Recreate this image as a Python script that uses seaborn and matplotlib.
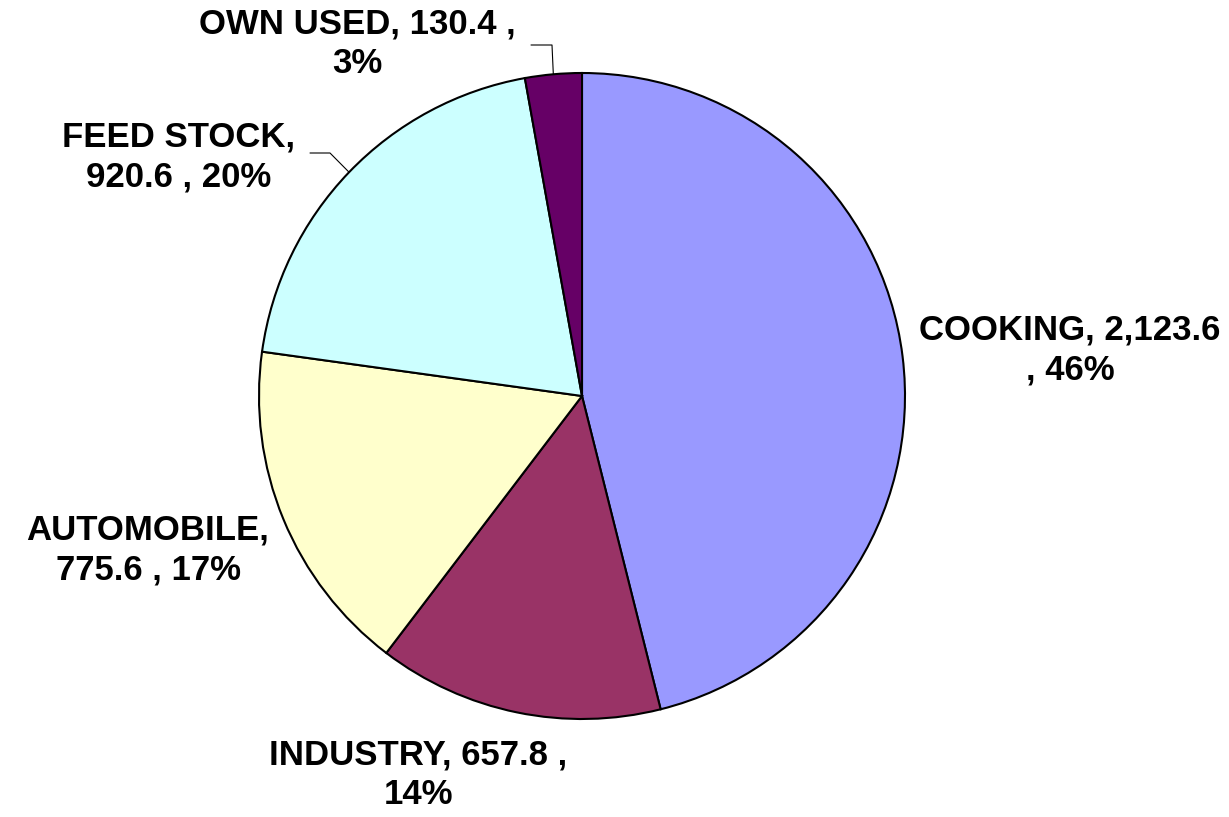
import seaborn as sns
import matplotlib.pyplot as plt
import numpy as np

sns.set_theme(style="white")
plt.rcParams['font.family'] = ['Liberation Sans', 'DejaVu Sans']

categories = ['COOKING', 'INDUSTRY', 'AUTOMOBILE', 'FEED STOCK', 'OWN USED']
values = [2123.6, 657.8, 775.6, 920.6, 130.4]
colors = ['#9999FF', '#993366', '#FFFFCC', '#CCFFFF', '#660066']
# where the label wraps: after the name or after the value
wrap_after = ['value', 'value', 'name', 'name', 'value']

W, H = 1229, 817
fig = plt.figure(figsize=(W / 100, H / 100), dpi=100)
ax = fig.add_axes([0, 0, 1, 1])

cx, cy, r = 582, H - 396, 323
wedges, _ = ax.pie(values, colors=colors, startangle=90, counterclock=False,
                   center=(cx, cy), radius=r, frame=True,
                   wedgeprops=dict(edgecolor='black', linewidth=1.5))
ax.set_xlim(0, W)
ax.set_ylim(0, H)
ax.axis('off')

total = sum(values)
label_pos = [(1070, H - 350), (418, H - 775), (148, H - 550),
             (179, H - 157), (357, H - 44)]
for name, v, wrap, (tx, ty) in zip(categories, values, wrap_after, label_pos):
    pct = round(v / total * 100)
    if wrap == 'name':
        txt = f"{name},\n{v:,.1f} , {pct}%"
    elif name == 'COOKING':
        txt = f"{name}, {v:,.1f}\n, {pct}%"
    else:
        txt = f"{name}, {v:,.1f} ,\n{pct}%"
    ax.text(tx, ty, txt, ha='center', va='center', fontsize=25,
            fontweight='bold', linespacing=1.25, color='black')

# leader lines for the two small top labels
def edge_point(i):
    w = wedges[i]
    ang = np.deg2rad((w.theta1 + w.theta2) / 2)
    return cx + r * np.cos(ang), cy + r * np.sin(ang)

px, py = edge_point(4)
ax.plot([531, 552, px], [H - 45, H - 45, py], color='black', lw=0.8)
px, py = edge_point(3)
ax.plot([310, 330, px], [H - 153, H - 153, py], color='black', lw=0.8)

fig.savefig('out.png', dpi=100)
